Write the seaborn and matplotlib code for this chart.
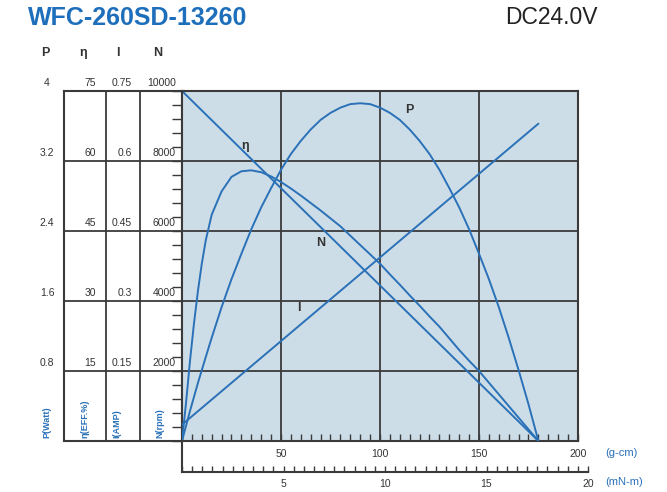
import seaborn as sns
import matplotlib.pyplot as plt
from matplotlib.ticker import MultipleLocator

# torque in g-cm
torque = [0, 2, 4, 6, 8, 10, 12, 15, 20, 25, 30, 35, 40, 45, 50, 55, 60, 65, 70, 75,
          80, 85, 90, 95, 100, 105, 110, 115, 120, 125, 130, 135, 140, 145, 150,
          155, 160, 165, 170, 175, 180]
power = [0, 0.17, 0.34, 0.50, 0.66, 0.81, 0.96, 1.18, 1.53, 1.85, 2.14, 2.42, 2.67,
         2.89, 3.10, 3.28, 3.43, 3.56, 3.67, 3.75, 3.81, 3.85, 3.86, 3.85, 3.81, 3.75,
         3.67, 3.56, 3.43, 3.28, 3.10, 2.89, 2.67, 2.42, 2.14, 1.85, 1.53, 1.18, 0.81,
         0.42, 0]
efficiency = [0, 8, 17, 25, 32, 38, 43, 48.5, 53.5, 56.6, 57.8, 58, 57.6, 56.7, 55.5,
              54.1, 52.6, 51, 49.4, 47.7, 46, 44, 42, 40, 38, 35.7, 33.5, 31.2, 29,
              26.7, 24.5, 22, 19.5, 17.2, 15, 12.5, 10, 7.5, 5, 2.5, 0]
line_torque = [0, 180]
speed = [10000, 0]
current = [0.035, 0.68]

p_ticks = ['0.8', '1.6', '2.4', '3.2', '4']
eff_ticks = ['15', '30', '45', '60', '75']
cur_ticks = ['0.15', '0.3', '0.45', '0.6', '0.75']
spd_ticks = ['2000', '4000', '6000', '8000', '10000']
gcm_ticks = [50, 100, 150, 200]
mnm_ticks = [5, 10, 15, 20]
col_titles = ['P', 'η', 'I', 'N']
unit_labels = ['P(Watt)', 'η(EFF.%)', 'I(AMP)', 'N(rpm)']

BLUE = '#2a71b8'
DARK = '#3a3a3a'
TXT = '#333333'

sns.set_style('white')
plt.rcParams['font.family'] = ['Liberation Sans', 'DejaVu Sans']

W, H = 667, 492
fx = lambda px: px / W
fy = lambda py: 1 - py / H

fig = plt.figure(figsize=(6.67, 4.92), dpi=100)

# left value panel
side = fig.add_axes([fx(64), fy(441), 118 / W, 350 / H])
side.set_xlim(0, 118)
side.set_ylim(0, 10000)
side.set_xticks([])
side.set_yticks([])
for s in side.spines.values():
    s.set_color(DARK)
    s.set_linewidth(1.5)
for k in range(1, 5):
    side.axhline(k * 2000, color=DARK, lw=1.3)
for xv in [42, 76]:
    side.axvline(xv, color=DARK, lw=1.3)

fs = 7.5
for k in range(5):
    yv = (k + 1) * 2000 + 240
    side.text(-17, yv, p_ticks[k], ha='center', va='center', fontsize=fs, color=TXT, clip_on=False)
    side.text(32, yv, eff_ticks[k], ha='right', va='center', fontsize=fs, color=TXT)
    side.text(68, yv, cur_ticks[k], ha='right', va='center', fontsize=fs, color=TXT)
    side.text(112, yv, spd_ticks[k], ha='right', va='center', fontsize=fs, color=TXT)
for xv, t in zip([-19, 19, 54, 94], col_titles):
    side.text(xv, 11090, t, ha='center', va='center', fontsize=9, color=TXT,
              fontweight='bold', clip_on=False)
for xv, t in zip([-17, 21, 53, 96], unit_labels):
    side.text(xv, 90, t, rotation=90, ha='center', va='bottom', fontsize=6.5,
              color=BLUE, fontweight='bold', clip_on=False)

# main chart
ax = fig.add_axes([fx(182), fy(441), (578 - 182) / W, 350 / H])
ax.set_facecolor('#cddde7')
ax.set_xlim(0, 200)
ax.set_ylim(0, 10000)
ax.set_xticks(gcm_ticks)
ax.set_xticklabels([str(v) for v in gcm_ticks])
ax.set_yticks(range(0, 10001, 2000))
ax.xaxis.set_minor_locator(MultipleLocator(5))
ax.yaxis.set_minor_locator(MultipleLocator(400))
ax.grid(True, which='major', color=DARK, lw=1.3)
ax.set_axisbelow(True)
ax.tick_params(axis='x', which='both', direction='in', length=5, width=1, color=DARK,
               labelsize=7.5, labelcolor=TXT, pad=6, bottom=True)
ax.tick_params(axis='y', which='both', direction='out', length=7, width=1, color=DARK,
               labelleft=False, left=True)
for s in ax.spines.values():
    s.set_color(DARK)
    s.set_linewidth(1.5)

line_kw = dict(color=BLUE, lw=1.4, solid_joinstyle='round')
sns.lineplot(x=line_torque, y=speed, ax=ax, **line_kw)

ax_p = ax.twinx()
ax_p.set_ylim(0, 4)
sns.lineplot(x=torque, y=power, ax=ax_p, **line_kw)
ax_p.set_axis_off()

ax_e = ax.twinx()
ax_e.set_ylim(0, 75)
sns.lineplot(x=torque, y=efficiency, ax=ax_e, **line_kw)
ax_e.set_axis_off()

ax_i = ax.twinx()
ax_i.set_ylim(0, 0.75)
sns.lineplot(x=line_torque, y=current, ax=ax_i, **line_kw)
ax_i.set_axis_off()
ax.set_xlim(0, 200)

for xv, yv, t in [(115, 9450, 'P'), (32, 8420, 'η'), (70, 5650, 'N'), (59, 3800, 'I')]:
    ax.text(xv, yv, t, ha='center', va='center', fontsize=9, color=TXT, fontweight='bold')

# second torque axis in mN-m
axb = fig.add_axes([fx(182), fy(472), (588 - 182) / W, 31 / H])
axb.patch.set_alpha(0)
axb.set_xlim(0, 20)
axb.set_yticks([])
axb.set_xticks(mnm_ticks)
axb.xaxis.set_minor_locator(MultipleLocator(0.5))
axb.tick_params(axis='x', which='both', direction='in', length=4, width=1, color=DARK,
                labelsize=7.5, labelcolor=TXT, pad=5, bottom=True)
axb.spines['top'].set_visible(False)
axb.spines['right'].set_visible(False)
for k in ['left', 'bottom']:
    axb.spines[k].set_color(DARK)
    axb.spines[k].set_linewidth(1.5)

fig.text(fx(605), fy(453), '(g-cm)', ha='left', va='center', fontsize=8, color=BLUE)
fig.text(fx(605), fy(482), '(mN-m)', ha='left', va='center', fontsize=8, color=BLUE)

fig.text(fx(28), fy(18), 'WFC-260SD-13260', ha='left', va='center', fontsize=18,
         fontweight='bold', color='#1e6fbb')
fig.text(fx(505), fy(17), 'DC24.0V', ha='left', va='center', fontsize=16.5, color='#222222')

fig.savefig('out.png', dpi=100)
